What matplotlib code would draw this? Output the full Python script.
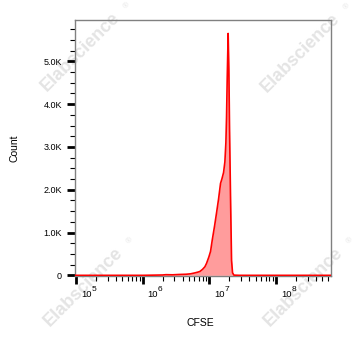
import numpy as np
import matplotlib
matplotlib.use('Agg')
import matplotlib.pyplot as plt
import matplotlib.transforms as mtransforms
from matplotlib.ticker import FixedLocator, MultipleLocator, LogLocator, NullFormatter

plt.rcParams['font.family'] = ['Liberation Sans', 'DejaVu Sans']

# ── Datos (posición log10 de CFSE, cuentas) ───────────────────────
cfse_log = [4.99, 6.00, 6.30, 6.35, 6.45, 6.55, 6.65, 6.72, 6.78, 6.83, 6.86,
            6.90, 6.935, 6.96, 6.995, 7.02, 7.045, 7.08, 7.11, 7.14, 7.17,
            7.19, 7.215, 7.235, 7.25, 7.26, 7.27, 7.284, 7.295, 7.305, 7.32,
            7.335, 7.35, 7.37, 7.45, 8.85]
counts = [0, 0, 8, 15, 12, 20, 25, 35, 55, 75, 90,
          140, 200, 280, 430, 560, 820, 1150, 1460, 1780, 2150,
          2250, 2400, 2650, 3100, 3700, 4600, 5650, 4800, 3400, 1800,
          350, 60, 5, 0, 0]

y_ticks = [0, 1000, 2000, 3000, 4000, 5000]
y_labels = ['0', '1.0K', '2.0K', '3.0K', '4.0K', '5.0K']
x_decades = [5, 6, 7, 8]

x = 10 ** np.array(cfse_log)
y = np.array(counts)

fig = plt.figure(figsize=(3.6, 3.47), dpi=100)
ax = fig.add_axes([0.209, 0.2037, 0.711, 0.7378])
ax.patch.set_alpha(0)

ax.fill_between(x, 0, y, color='#ff9c9c', lw=0, zorder=2)
ax.plot(x, y, color='#ff0000', lw=1.2, zorder=3)

ax.set_xscale('log')
ax.set_xlim(10 ** 4.99, 10 ** 8.83)
ax.set_ylim(-23, 5958)

for s in ax.spines.values():
    s.set_color('#808080')
    s.set_linewidth(1.0)

ax.yaxis.set_major_locator(FixedLocator(y_ticks))
ax.set_yticklabels(y_labels)
ax.yaxis.set_minor_locator(MultipleLocator(250))
ax.xaxis.set_major_locator(FixedLocator([10.0 ** d for d in x_decades]))
ax.set_xticklabels([])
ax.xaxis.set_minor_locator(LogLocator(base=10, subs=np.arange(2, 10)))
ax.xaxis.set_minor_formatter(NullFormatter())

ax.tick_params(axis='both', which='major', direction='out', length=6, width=2,
               color='black', labelsize=6.5, pad=3.5)
ax.tick_params(axis='both', which='minor', direction='out', length=3.5, width=0.8,
               color='black')

# etiquetas 10^n a mano, desplazadas a la derecha del tick
blend = mtransforms.blended_transform_factory(ax.transData, ax.transAxes)
for d in x_decades:
    t_base = blend + mtransforms.ScaledTranslation(0.05, -0.21, fig.dpi_scale_trans)
    t_exp = blend + mtransforms.ScaledTranslation(0.155, -0.15, fig.dpi_scale_trans)
    ax.text(10.0 ** d, 0, '10', transform=t_base, ha='left', va='baseline', fontsize=6.8)
    ax.text(10.0 ** d, 0, str(d), transform=t_exp, ha='left', va='baseline', fontsize=6)

fig.text(14 / 360, 1 - 148 / 347, 'Count', rotation=90, ha='center', va='center', fontsize=7.5)
fig.text(200 / 360, 1 - 323 / 347, 'CFSE', ha='center', va='center', fontsize=7.5)

# ── Marca de agua ────────────────────────────────────────────────
for cx, cy in [(80, 52), (300, 53), (83, 287), (303, 287)]:
    fig.text(cx / 360, 1 - cy / 347, 'Elabscience', rotation=45,
             ha='center', va='center', fontsize=13, fontweight='bold',
             color='#e4e4e4', zorder=-1)
    fig.text((cx + 47) / 360, 1 - (cy - 46) / 347, '\u00ae', rotation=45,
             ha='center', va='center', fontsize=6, color='#e4e4e4', zorder=-1)

fig.savefig('out.png', dpi=100)
